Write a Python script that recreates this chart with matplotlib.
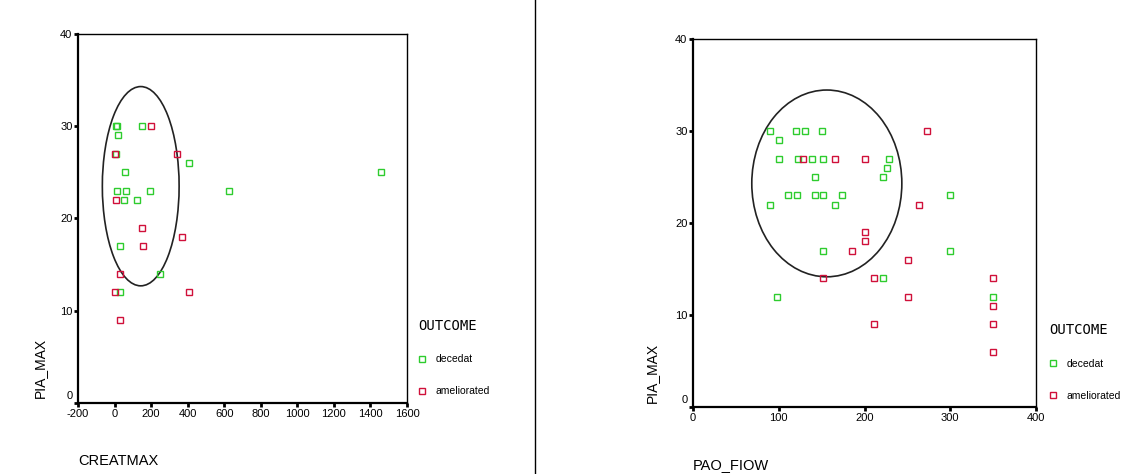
"""Two SPSS-style scatter plots of PIA_MAX by outcome, with confidence ellipses."""

import matplotlib
matplotlib.use('Agg')
import matplotlib.pyplot as plt
from matplotlib.lines import Line2D
from matplotlib.patches import Ellipse
from matplotlib.transforms import ScaledTranslation

plt.rcParams['font.family'] = ['Liberation Sans', 'DejaVu Sans']
plt.rcParams['axes.unicode_minus'] = False

# left panel: CREATMAX vs PIA_MAX
creat_dec_x = [5, 12, 150, 21, 10, 407, 55, 1460, 13, 64, 196, 626, 52, 123, 28, 247, 28]
creat_dec_y = [30, 30, 30, 29, 27, 26, 25, 25, 23, 23, 23, 23, 22, 22, 17, 14, 12]
creat_ame_x = [200, 0, 340, 6, 152, 371, 156, 28, 0, 407, 28]
creat_ame_y = [30, 27, 27, 22, 19, 18, 17, 14, 12, 12, 9]

# right panel: PAO_FIOW vs PIA_MAX
pao_dec_x = [90, 120, 130, 150, 100, 100, 122, 139, 151, 228, 226, 221, 142,
             111, 121, 142, 151, 174, 90, 165, 300, 151, 300, 221, 98, 350]
pao_dec_y = [30, 30, 30, 30, 29, 27, 27, 27, 27, 27, 26, 25, 25,
             23, 23, 23, 23, 23, 22, 22, 23, 17, 17, 14, 12, 12]
pao_ame_x = [273, 128, 165, 200, 263, 200, 200, 185, 251, 151, 211, 350, 251, 350, 211, 350, 350]
pao_ame_y = [30, 27, 27, 27, 22, 19, 18, 17, 16, 14, 14, 14, 12, 11, 9, 9, 6]

# ellipses: (center x, center y, width, height)
creat_ellipse = (143, 23.5, 420, 21.6)
pao_ellipse = (156, 24.3, 175, 20.3)

outcome_labels = ['decedat', 'ameliorated']
green = '#2ecc2e'
red = '#d0103a'


def scatter_panel(fig, ax, dec_x, dec_y, ame_x, ame_y, ellipse, xlim, xticks, xlabel,
                  ylabel_xy, legend_xy):
    ax.plot(dec_x, dec_y, 's', ms=4.2, mfc='none', mec=green, mew=1.0,
            linestyle='none', label=outcome_labels[0])
    ax.plot(ame_x, ame_y, 's', ms=4.2, mfc='none', mec=red, mew=1.0,
            linestyle='none', label=outcome_labels[1])
    cx, cy, w, h = ellipse
    ax.add_patch(Ellipse((cx, cy), w, h, fill=False, edgecolor='#222222', linewidth=1.2))
    ax.set_xlim(*xlim)
    ax.set_ylim(0, 40)
    ax.set_xticks(xticks)
    ax.set_yticks([0, 10, 20, 30, 40])
    ax.tick_params(labelsize=8, length=3, width=2, direction='out', pad=1, colors='black')
    for side in ('left', 'bottom'):
        ax.spines[side].set_linewidth(1.6)
    for side in ('top', 'right'):
        ax.spines[side].set_linewidth(1.0)
    # SPSS draws the y "0" label a little above the axis line
    zero = ax.get_yticklabels()[0]
    zero.set_transform(zero.get_transform() + ScaledTranslation(0, 8 / 100, fig.dpi_scale_trans))

    ax.text(ylabel_xy[0], ylabel_xy[1], 'PIA_MAX', transform=ax.transAxes, rotation=90,
            ha='center', va='center', fontsize=10)
    ax.text(0.0, -0.157, xlabel, transform=ax.transAxes, ha='left', va='center', fontsize=10.5)
    leg = ax.legend(loc='upper left', bbox_to_anchor=legend_xy, frameon=False,
                    title='OUTCOME', alignment='left', fontsize=7.5, handletextpad=0.9,
                    handlelength=0.8, labelspacing=2.1, borderaxespad=0)
    leg.get_title().set_fontsize(10)
    leg.get_title().set_family('DejaVu Sans Mono')


def main():
    fig = plt.figure(figsize=(11.26, 4.74), dpi=100)
    ax1 = fig.add_axes([0.0693, 0.1498, 0.2922, 0.7785])
    ax2 = fig.add_axes([0.6155, 0.1414, 0.3046, 0.7764])

    scatter_panel(fig, ax1, creat_dec_x, creat_dec_y, creat_ame_x, creat_ame_y, creat_ellipse,
                  (-200, 1600), list(range(-200, 1601, 200)), 'CREATMAX',
                  (-0.115, 0.095), (1.02, 0.24))
    scatter_panel(fig, ax2, pao_dec_x, pao_dec_y, pao_ame_x, pao_ame_y, pao_ellipse,
                  (0, 400), [0, 100, 200, 300, 400], 'PAO_FIOW',
                  (-0.12, 0.092), (1.025, 0.24))

    fig.add_artist(Line2D([535 / 1126, 535 / 1126], [0, 1], color='black', linewidth=1.0))
    fig.savefig('out.png', dpi=100)


if __name__ == '__main__':
    main()
